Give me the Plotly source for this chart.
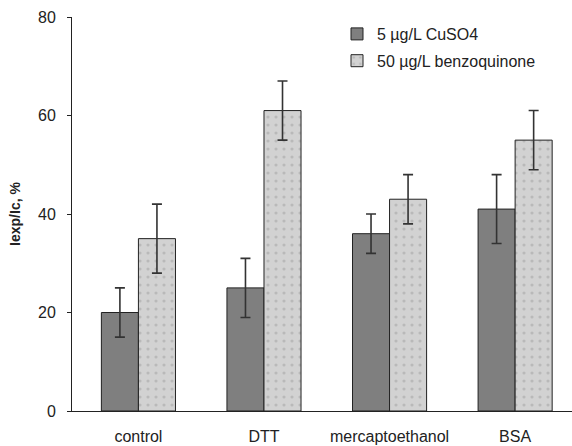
import plotly.graph_objects as go

categories = ["control", "DTT", "mercaptoethanol", "BSA"]
cuso4 = [20, 25, 36, 41]
cuso4_err = [5, 6, 4, 7]
benzo = [35, 61, 43, 55]
benzo_err = [7, 6, 5, 6]
series_names = ["5 µg/L CuSO4", "50 µg/L benzoquinone"]
y_ticks = [0, 20, 40, 60, 80]

fig = go.Figure()
fig.add_trace(go.Bar(
    x=categories, y=cuso4, name=series_names[0], legendgroup="a",
    marker=dict(color="#7f7f7f", line=dict(color="#222222", width=1)),
    error_y=dict(type="data", array=cuso4_err, color="#333333", thickness=1.6, width=5),
))
fig.add_trace(go.Bar(
    x=categories, y=benzo, name=series_names[1], legendgroup="b",
    marker=dict(color="#d2d2d2", line=dict(color="#222222", width=1),
                pattern=dict(shape=".", fgcolor="#a0a0a0", bgcolor="#d2d2d2",
                             size=8, solidity=0.12)),
    error_y=dict(type="data", array=benzo_err, color="#333333", thickness=1.6, width=5),
))

fig.update_layout(
    width=572, height=446,
    margin=dict(l=72, r=0, t=17, b=35),
    paper_bgcolor="white", plot_bgcolor="white",
    barmode="group", bargap=0.41, bargroupgap=0,
    font=dict(family="Liberation Sans, Arial, sans-serif", size=15, color="#222222"),
    showlegend=True,
    legend=dict(x=0.53, y=1.0, xanchor="left", yanchor="top",
                bgcolor="rgba(0,0,0,0)", font=dict(size=16),
                traceorder="grouped", tracegroupgap=3, itemwidth=30),
    xaxis=dict(
        range=[-0.529, 3.453], showline=True, linecolor="#222222", linewidth=1,
        ticks="", showgrid=False, zeroline=False, ticklabelstandoff=11,
        tickfont=dict(size=16), automargin=False,
    ),
    yaxis=dict(
        range=[0, 80], tickvals=y_ticks, showline=True, linecolor="#222222", linewidth=1,
        ticks="outside", ticklen=4, tickcolor="#222222", showgrid=False, zeroline=False,
        title=dict(text="<b>Iexp/Ic, %</b>", font=dict(size=14), standoff=14),
        tickfont=dict(size=16), ticklabelstandoff=8, automargin=False,
    ),
)

fig.write_html("out.html")
